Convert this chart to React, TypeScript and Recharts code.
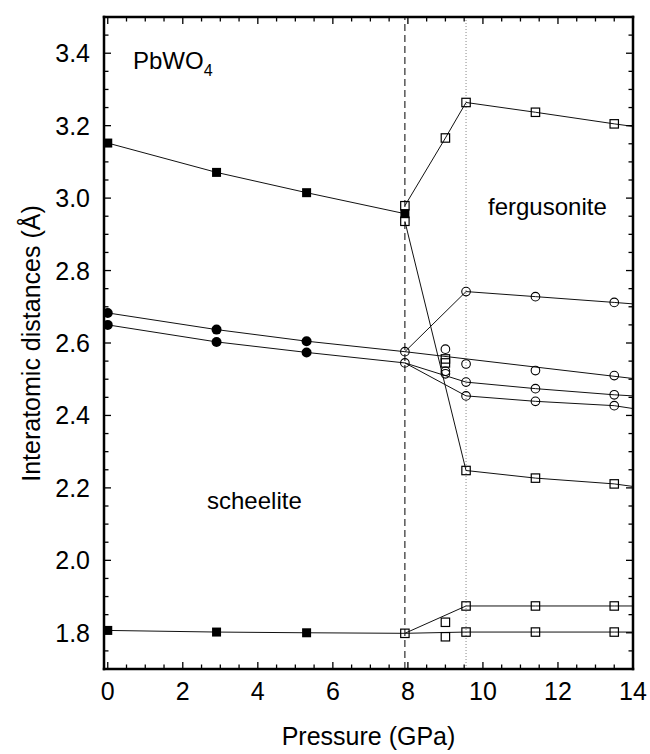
import {
  ComposedChart,
  Line,
  Scatter,
  XAxis,
  YAxis,
  ReferenceLine,
} from "recharts"

const FONT = '"Liberation Sans", Arial, Helvetica, sans-serif'

type P = [number, number] // [pressure GPa, distance Å]

// phase boundaries: scheelite -> fergusonite (dashed), dotted marker
const phaseBounds = [7.92, 9.55]

// lines (fits end at the right frame, 14 GPa)
const lineTopLow: P[] = [[0, 3.152], [2.9, 3.071], [5.3, 3.015], [7.92, 2.957]]
const lineTopUp: P[] = [[7.92, 2.979], [9.0, 3.166], [9.55, 3.264], [11.4, 3.237], [13.5, 3.205], [14, 3.198]]
const lineTopDown: P[] = [[7.92, 2.936], [9.55, 2.248], [11.4, 2.227], [13.5, 2.211], [14, 2.204]]
const lineCircA: P[] = [[0, 2.683], [2.9, 2.637], [5.3, 2.605], [7.92, 2.576]]
const lineCircB: P[] = [[0, 2.65], [2.9, 2.603], [5.3, 2.574], [7.92, 2.545]]
const lineCircUp: P[] = [[7.92, 2.576], [9.55, 2.742], [11.4, 2.728], [13.5, 2.712], [14, 2.708]]
const lineCircMid: P[] = [[7.92, 2.576], [14, 2.502]]
const lineCircB1: P[] = [[7.92, 2.545], [9.55, 2.492], [11.4, 2.474], [13.5, 2.457], [14, 2.454]]
const lineCircB2: P[] = [[7.92, 2.545], [9.55, 2.454], [11.4, 2.439], [13.5, 2.427], [14, 2.419]]
const lineBotFlat: P[] = [[0, 1.8065], [2.9, 1.802], [5.3, 1.8], [7.92, 1.7985], [9.55, 1.802], [11.4, 1.802], [13.5, 1.802], [14, 1.802]]
const lineBotUp: P[] = [[7.92, 1.7985], [9.55, 1.874], [11.4, 1.874], [13.5, 1.874], [14, 1.874]]

// markers
const filledSquares: P[] = [
  [0, 3.152], [2.9, 3.071], [5.3, 3.015], [7.92, 2.957],
  [0, 1.8065], [2.9, 1.802], [5.3, 1.8],
]
const openSquares: P[] = [
  [7.92, 2.979], [7.92, 2.936], [9.0, 3.166], [9.55, 3.264], [11.4, 3.237], [13.5, 3.205],
  [9.55, 2.248], [11.4, 2.227], [13.5, 2.211], [9.0, 2.556], [9.0, 2.545],
  [7.92, 1.7985], [9.0, 1.829], [9.0, 1.789],
  [9.55, 1.874], [11.4, 1.874], [13.5, 1.874],
  [9.55, 1.802], [11.4, 1.802], [13.5, 1.802],
]
const filledCircles: P[] = [
  [0, 2.683], [2.9, 2.637], [5.3, 2.605],
  [0, 2.65], [2.9, 2.603], [5.3, 2.574],
]
const openCircles: P[] = [
  [7.92, 2.576], [7.92, 2.545], [9.0, 2.583], [9.0, 2.522], [9.0, 2.515],
  [9.55, 2.742], [11.4, 2.728], [13.5, 2.712],
  [9.55, 2.542], [11.4, 2.524], [13.5, 2.51],
  [9.55, 2.492], [11.4, 2.474], [13.5, 2.457],
  [9.55, 2.454], [11.4, 2.439], [13.5, 2.427],
]

const xTicks = [0, 0.5, 1, 1.5, 2, 2.5, 3, 3.5, 4, 4.5, 5, 5.5, 6, 6.5, 7, 7.5, 8, 8.5, 9, 9.5, 10, 10.5, 11, 11.5, 12, 12.5, 13, 13.5, 14]
const xMajor = [0, 2, 4, 6, 8, 10, 12, 14]
const yTicks = [1.7, 1.75, 1.8, 1.85, 1.9, 1.95, 2.0, 2.05, 2.1, 2.15, 2.2, 2.25, 2.3, 2.35, 2.4, 2.45, 2.5, 2.55, 2.6, 2.65, 2.7, 2.75, 2.8, 2.85, 2.9, 2.95, 3.0, 3.05, 3.1, 3.15, 3.2, 3.25, 3.3, 3.35, 3.4, 3.45, 3.5]
const yMajor = [1.8, 2.0, 2.2, 2.4, 2.6, 2.8, 3.0, 3.2, 3.4]

const toPts = (a: P[]) => a.map(([x, y]) => ({ x, y }))
const isMajor = (v: number, list: number[]) => list.some((m) => Math.abs(m - v) < 1e-6)

const LINES = [
  lineTopLow, lineTopUp, lineTopDown, lineCircA, lineCircB, lineCircUp,
  lineCircMid, lineCircB1, lineCircB2, lineBotFlat, lineBotUp,
]

const MAJ = 7
const MIN = 4.5

const BottomTick = (p: any) => {
  const major = isMajor(p.payload.value, xMajor)
  return (
    <g>
      <line x1={p.x} x2={p.x} y1={p.y} y2={p.y - (major ? MAJ : MIN)} stroke="#000" strokeWidth={1.3} />
      {major && (
        <text x={p.x} y={p.y + 31} textAnchor="middle" fontSize={25} fontFamily={FONT} fill="#000">
          {p.payload.value}
        </text>
      )}
    </g>
  )
}
const TopTick = (p: any) => {
  const major = isMajor(p.payload.value, xMajor)
  return <line x1={p.x} x2={p.x} y1={p.y} y2={p.y + (major ? MAJ : MIN)} stroke="#000" strokeWidth={1.3} />
}
const LeftTick = (p: any) => {
  const major = isMajor(p.payload.value, yMajor)
  return (
    <g>
      <line x1={p.x} x2={p.x + (major ? MAJ : MIN)} y1={p.y} y2={p.y} stroke="#000" strokeWidth={1.3} />
      {major && (
        <text x={p.x - 14} y={p.y} dy="0.36em" textAnchor="end" fontSize={25} fontFamily={FONT} fill="#000">
          {p.payload.value.toFixed(1)}
        </text>
      )}
    </g>
  )
}
const RightTick = (p: any) => {
  const major = isMajor(p.payload.value, yMajor)
  return <line x1={p.x} x2={p.x - (major ? MAJ : MIN)} y1={p.y} y2={p.y} stroke="#000" strokeWidth={1.3} />
}

const FilledSquare = (p: any) => <rect x={p.cx - 4.5} y={p.cy - 4.5} width={9} height={9} fill="#000" />
const OpenSquare = (p: any) => (
  <rect x={p.cx - 4.2} y={p.cy - 4.2} width={8.4} height={8.4} fill="none" stroke="#000" strokeWidth={1.2} />
)
const FilledCircle = (p: any) => <circle cx={p.cx} cy={p.cy} r={5} fill="#000" />
const OpenCircle = (p: any) => <circle cx={p.cx} cy={p.cy} r={4.3} fill="none" stroke="#000" strokeWidth={1.1} />

const axisLine = { stroke: "#000", strokeWidth: 2.5, strokeLinecap: "square" as const }

export default function App() {
  return (
    <div style={{ position: "relative", width: 650, height: 754 }}>
      <style>{"body{margin:0;overflow:hidden} .recharts-surface{overflow:visible}"}</style>
      <ComposedChart width={650} height={754} margin={{ top: 16, right: 16, left: 103, bottom: 84 }}>
        <XAxis
          xAxisId="b"
          dataKey="x"
          type="number"
          domain={[-0.1, 14]}
          allowDataOverflow
          ticks={xTicks}
          interval={0}
          height={1}
          tickSize={0}
          tickMargin={0}
          tickLine={false}
          axisLine={axisLine}
          tick={<BottomTick />}
        />
        <XAxis
          xAxisId="t"
          orientation="top"
          dataKey="x"
          type="number"
          domain={[-0.1, 14]}
          allowDataOverflow
          ticks={xTicks}
          interval={0}
          height={1}
          tickSize={0}
          tickMargin={0}
          tickLine={false}
          axisLine={axisLine}
          tick={<TopTick />}
        />
        <YAxis
          yAxisId="l"
          dataKey="y"
          type="number"
          domain={[1.7, 3.5]}
          allowDataOverflow
          ticks={yTicks}
          interval={0}
          width={1}
          tickSize={0}
          tickMargin={0}
          tickLine={false}
          axisLine={axisLine}
          tick={<LeftTick />}
        />
        <YAxis
          yAxisId="r"
          orientation="right"
          dataKey="y"
          type="number"
          domain={[1.7, 3.5]}
          allowDataOverflow
          ticks={yTicks}
          interval={0}
          width={1}
          tickSize={0}
          tickMargin={0}
          tickLine={false}
          axisLine={axisLine}
          tick={<RightTick />}
        />
        <ReferenceLine xAxisId="b" yAxisId="l" x={phaseBounds[0]} stroke="#000" strokeWidth={1} strokeDasharray="7 4" />
        <ReferenceLine xAxisId="b" yAxisId="l" x={phaseBounds[1]} stroke="#888" strokeWidth={1} strokeDasharray="1 2" />
        {LINES.map((l, i) => (
          <Line
            key={i}
            xAxisId="b"
            yAxisId="l"
            data={toPts(l)}
            dataKey="y"
            type="linear"
            stroke="#111"
            strokeWidth={1}
            dot={false}
            activeDot={false}
            isAnimationActive={false}
          />
        ))}
        <Scatter xAxisId="b" yAxisId="l" data={toPts(openSquares)} dataKey="y" shape={OpenSquare} isAnimationActive={false} />
        <Scatter xAxisId="b" yAxisId="l" data={toPts(openCircles)} dataKey="y" shape={OpenCircle} isAnimationActive={false} />
        <Scatter xAxisId="b" yAxisId="l" data={toPts(filledCircles)} dataKey="y" shape={FilledCircle} isAnimationActive={false} />
        <Scatter xAxisId="b" yAxisId="l" data={toPts(filledSquares)} dataKey="y" shape={FilledSquare} isAnimationActive={false} />
      </ComposedChart>
      <svg
        width={650}
        height={754}
        style={{ position: "absolute", left: 0, top: 0, pointerEvents: "none" }}
        fontFamily={FONT}
        fill="#000"
      >
        <text x={133} y={69} fontSize={24}>
          PbWO<tspan fontSize={16} dy={7}>4</tspan>
        </text>
        <text x={488} y={215} fontSize={24}>fergusonite</text>
        <text x={207} y={509} fontSize={24}>scheelite</text>
        <text x={368.5} y={745} fontSize={25} textAnchor="middle">Pressure (GPa)</text>
        <text x={40} y={343.5} fontSize={25} textAnchor="middle" transform="rotate(-90 40 343.5)">
          Interatomic distances (Å)
        </text>
      </svg>
    </div>
  )
}
